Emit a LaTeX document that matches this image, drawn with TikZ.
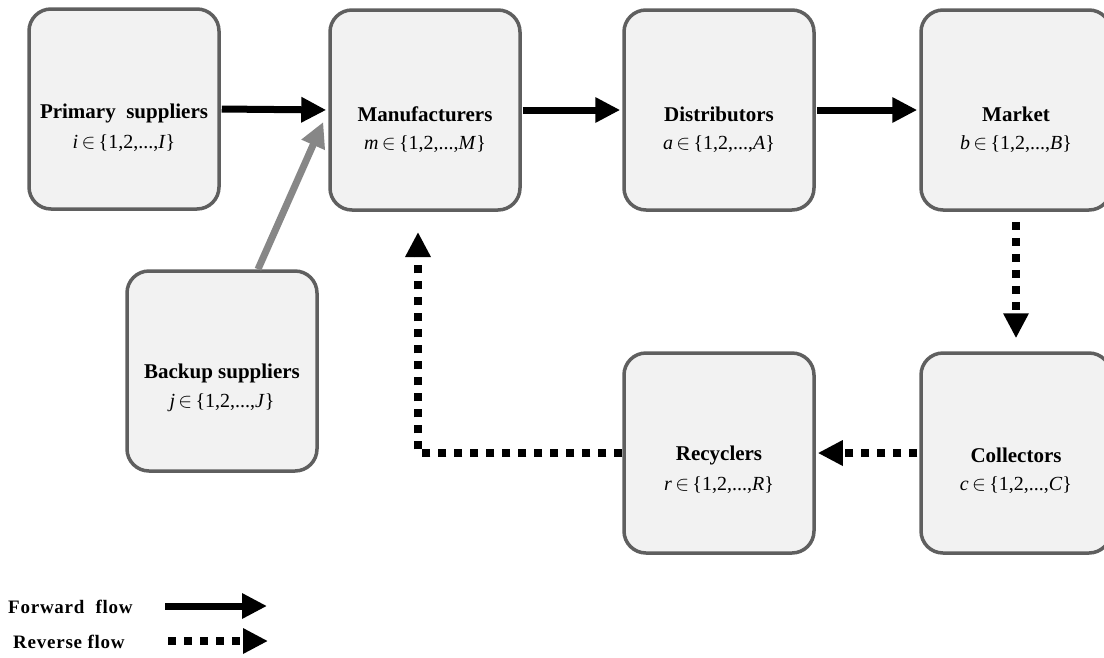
\documentclass[tikz,border=0pt]{standalone}
\usepackage{fontspec}
\setmainfont{Liberation Serif}
\usetikzlibrary{arrows.meta}
\definecolor{boxfill}{RGB}{242,242,242}
\definecolor{boxdraw}{RGB}{95,95,95}
\definecolor{backgray}{RGB}{135,135,135}
\begin{document}
\begin{tikzpicture}[x=1pt,y=-1pt,
  box/.style={draw=boxdraw, line width=3.5pt, fill=boxfill, rounded corners=22pt,
    minimum width=190pt, minimum height=200pt, inner sep=0pt},
  ttl/.style={font=\fontsize{21}{24}\selectfont\bfseries, inner sep=0pt},
  idx/.style={font=\fontsize{20}{22}\selectfont, inner sep=0pt},
  leg/.style={font=\fontsize{19}{22}\selectfont\bfseries\addfontfeature{LetterSpace=4}, inner sep=0pt},
  fwd/.style={line width=7pt, -{Triangle[length=25pt,width=24pt]}},
  rev/.style={line width=8pt, dash pattern=on 8pt off 8pt, -{Triangle[length=25pt,width=24pt]}},
  bkp/.style={draw=backgray, line width=7pt, -{Triangle[length=25pt,width=24pt]}},
]
\useasboundingbox (0,0) rectangle (1104,657);

% boxes
\node[box] (prim) at (124,109) {};
\node[box] (manu) at (425,110) {};
\node[box] (dist) at (719,110) {};
\node[box] (mark) at (1016,110) {};
\node[box] (back) at (222,371) {};
\node[box] (recy) at (719,453) {};
\node[box] (coll) at (1016,453) {};

% labels
\node[ttl] (primT) at ([yshift=-4pt]prim.center) {Primary\ \ suppliers};
\node[idx] (primM) at ([yshift=-34pt]prim.center) {\textit{i}\,$\in$\,\{1,2,...,\textit{I}\}};
\node[ttl] (manuT) at ([yshift=-4pt]manu.center) {Manufacturers};
\node[idx] (manuM) at ([yshift=-34pt]manu.center) {\textit{m}\,$\in$\,\{1,2,...,\textit{M}\}};
\node[ttl] (distT) at ([yshift=-4pt]dist.center) {Distributors};
\node[idx] (distM) at ([yshift=-34pt]dist.center) {\textit{a}\,$\in$\,\{1,2,...,\textit{A}\}};
\node[ttl] (markT) at ([yshift=-4pt]mark.center) {Market};
\node[idx] (markM) at ([yshift=-34pt]mark.center) {\textit{b}\,$\in$\,\{1,2,...,\textit{B}\}};
\node[ttl] (backT) at ([yshift=-2pt]back.center) {Backup suppliers};
\node[idx] (backM) at ([yshift=-32pt]back.center) {\textit{j}\,$\in$\,\{1,2,...,\textit{J}\}};
\node[ttl] (recyT) at ([yshift=-2pt]recy.center) {Recyclers};
\node[idx] (recyM) at ([yshift=-32pt]recy.center) {\textit{r}\,$\in$\,\{1,2,...,\textit{R}\}};
\node[ttl] (collT) at ([yshift=-2pt]coll.center) {Collectors};
\node[idx] (collM) at ([yshift=-32pt]coll.center) {\textit{c}\,$\in$\,\{1,2,...,\textit{C}\}};

% forward flows
\draw[fwd, shorten <=1pt, shorten >=2pt] (prim.east) -- (manu.west);
\draw[fwd, shorten <=1pt, shorten >=2pt] (manu.east) -- (dist.west);
\draw[fwd, shorten <=1pt, shorten >=2pt] (dist.east) -- (mark.west);
\coordinate (bkStart) at ([xshift=36pt]back.north);
\coordinate (bkTip) at ([xshift=-5pt,yshift=-12pt]manu.west);
\draw[bkp] (bkStart) -- (bkTip);

% reverse flows
\draw[rev, shorten <=10pt, shorten >=13pt] (mark.south) -- (coll.north);
\draw[rev, shorten <=2pt, shorten >=2pt] (coll.west) -- (recy.east);
\coordinate (corner) at (418,453);
\coordinate (revTip) at (418,232);
\draw[rev] (recy.west) -- (corner) -- (revTip);

% legend
\node[leg, anchor=west] (legF) at (8,607) {Forward\ \ flow};
\node[leg, anchor=west] (legR) at (13,642) {Reverse flow};
\coordinate (legFa) at (165,606);
\coordinate (legFb) at (267,606);
\coordinate (legRa) at (168,641);
\coordinate (legRb) at (268,641);
\draw[fwd] (legFa) -- (legFb);
\draw[rev] (legRa) -- (legRb);
\end{tikzpicture}
\end{document}
